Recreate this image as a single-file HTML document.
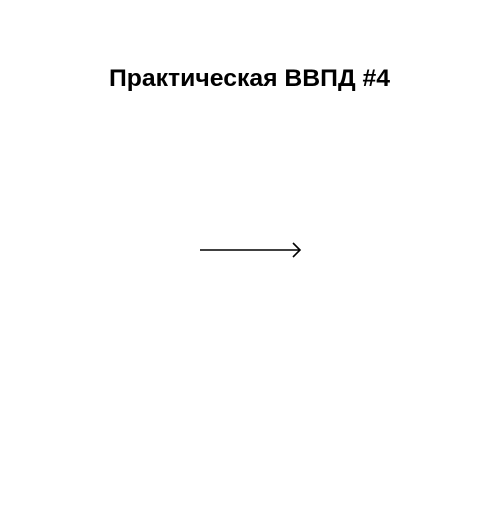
<!DOCTYPE html>
<html><head><meta charset="utf-8"><style>html,body{margin:0;padding:0;background:#fff;}</style></head>
<body>
<svg width="500" height="500" xmlns="http://www.w3.org/2000/svg">
<rect width="500" height="500" fill="#fff"/>
<text x="109" y="86" font-family="Liberation Sans, DejaVu Sans, sans-serif" font-weight="bold" font-size="24" textLength="281" lengthAdjust="spacingAndGlyphs" fill="#000">Практическая ВВПД #4</text>
<g stroke="#000" stroke-width="1.6" fill="none">
<line x1="200" y1="250" x2="300" y2="250"/>
<polyline points="293,243 300,250 293,257"/>
</g>
</svg>
</body></html>
